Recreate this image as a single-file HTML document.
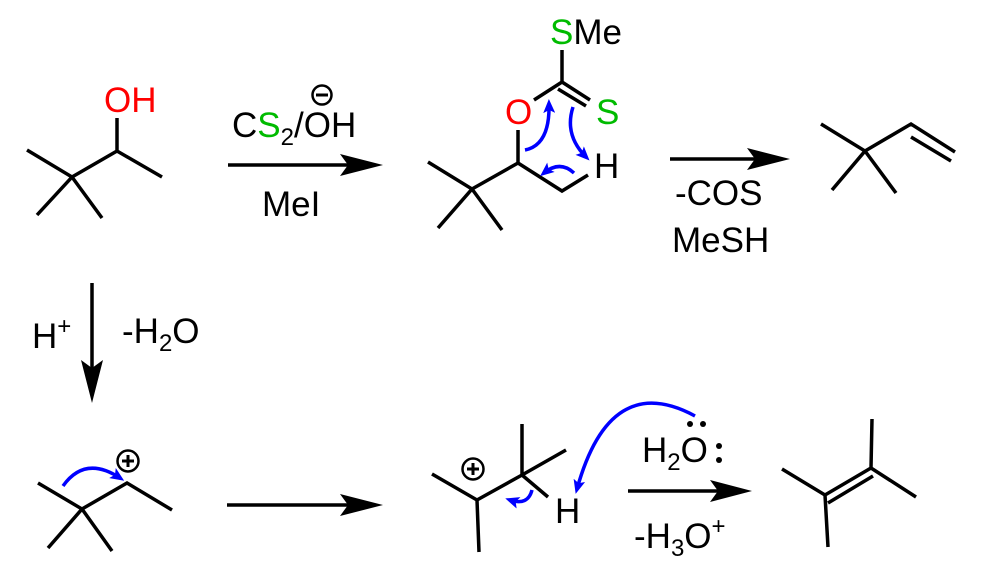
<!DOCTYPE html>
<html><head><style>body{margin:0;background:#fff}svg{display:block}</style></head>
<body>
<svg width="988" height="588" viewBox="0 0 988 588" xmlns="http://www.w3.org/2000/svg" font-family="Liberation Sans, Arial, sans-serif" font-size="35">
<defs>
<marker id="bh" markerWidth="14" markerHeight="12" refX="9" refY="6" orient="auto" markerUnits="userSpaceOnUse"><path d="M0,0 L14,6 L0,12 L3,6 Z" fill="#00f"/></marker>
</defs>
<g stroke="#000" stroke-width="3.5" fill="none" stroke-linecap="butt">
<path d="M27,150 L72,177 L37,215 M72,177 L102,218 M72,177 L117,151 L162,177 M117,151 L117,118"/>
<path d="M428,162 L472,189 L438,228 M472,189 L502,230 M472,189 L518,163 L518,130 M518,163 L562,191 L588,175 M534,100 L562,82 L562,50 M562,82 L590,100 M558,89 L586,106"/>
<path d="M821,124 L865,151 L832,190 M865,151 L896,193 M865,151 L911,124 L955,152 M911,137 L951,161"/>
<path d="M38,483 L82,509 L48,548 M82,509 L127,483 L172,510 M82,509 L112,551"/>
<path d="M432,474 L477,500 L479,552 M477,500 L522,475 L522,424 M522,475 L566,450 M522,475 L548,497"/>
<path d="M782,469 L825,495 L828,547 M825,495 L871,468 L872,419 M871,468 L916,497 M828,503 L873,476"/>
<path d="M228,165 L350,165 M670,159 L755,159 M92,283 L92,370 M227,505 L350,505 M628,491 L720,491"/>
<circle cx="322" cy="95" r="9.5" stroke-width="2.5"/>
<circle cx="128" cy="461" r="10.5" stroke-width="2.5"/>
<circle cx="473" cy="469" r="10.5" stroke-width="2.5"/>
</g>
<g fill="#000">
<path d="M383,165 L340,154 L348,165 L340,176 Z"/>
<path d="M790,159 L747,148 L755,159 L747,170 Z"/>
<path d="M92,403 L81,360 L92,368 L103,360 Z"/>
<path d="M383,505 L340,494 L348,505 L340,516 Z"/>
<path d="M752,491 L710,480 L718,491 L710,502 Z"/>
<rect x="316" y="93.5" width="12" height="3"/>
<rect x="122" y="459.5" width="12" height="3"/><rect x="126.5" y="455" width="3" height="12"/>
<rect x="467" y="467.5" width="12" height="3"/><rect x="471.5" y="463" width="3" height="12"/>
<circle cx="690" cy="424" r="3"/><circle cx="703" cy="424" r="3"/>
<circle cx="719" cy="446" r="3"/><circle cx="719" cy="460" r="3"/>
</g>
<text x="104" y="112" fill="#f00">OH</text>
<text x="232" y="137">C<tspan fill="#0b0">S</tspan><tspan font-size="24" dy="8">2</tspan><tspan dy="-8">/OH</tspan></text>
<text x="262" y="216">MeI</text>
<text x="505" y="124" fill="#f00">O</text>
<text x="550" y="44"><tspan fill="#0b0">S</tspan>Me</text>
<text x="596" y="124" fill="#0b0">S</text>
<text x="594" y="178">H</text>
<text x="675" y="205">-COS</text>
<text x="672" y="252">MeSH</text>
<text x="32" y="348">H<tspan font-size="24" dy="-14">+</tspan></text>
<text x="122" y="343">-H<tspan font-size="24" dy="8">2</tspan><tspan dy="-8">O</tspan></text>
<text x="555" y="523">H</text>
<text x="642" y="462">H<tspan font-size="24" dy="8">2</tspan><tspan dy="-8">O</tspan></text>
<text x="634" y="548">-H<tspan font-size="24" dy="8">3</tspan><tspan dy="-8">O</tspan><tspan font-size="24" dy="-14">+</tspan></text>
<g stroke="#00f" stroke-width="3.5" fill="none" marker-end="url(#bh)">
<path d="M525,150 Q550,145 549,104"/>
<path d="M573,107 Q564,135 586,157"/>
<path d="M574,173 Q560,160 544,173"/>
<path d="M63,486 Q85,455 120,478"/>
<path d="M532,490 Q528,506 510,500"/>
<path d="M695,416 Q610,370 577,489"/>
</g>
</svg>
</body></html>
